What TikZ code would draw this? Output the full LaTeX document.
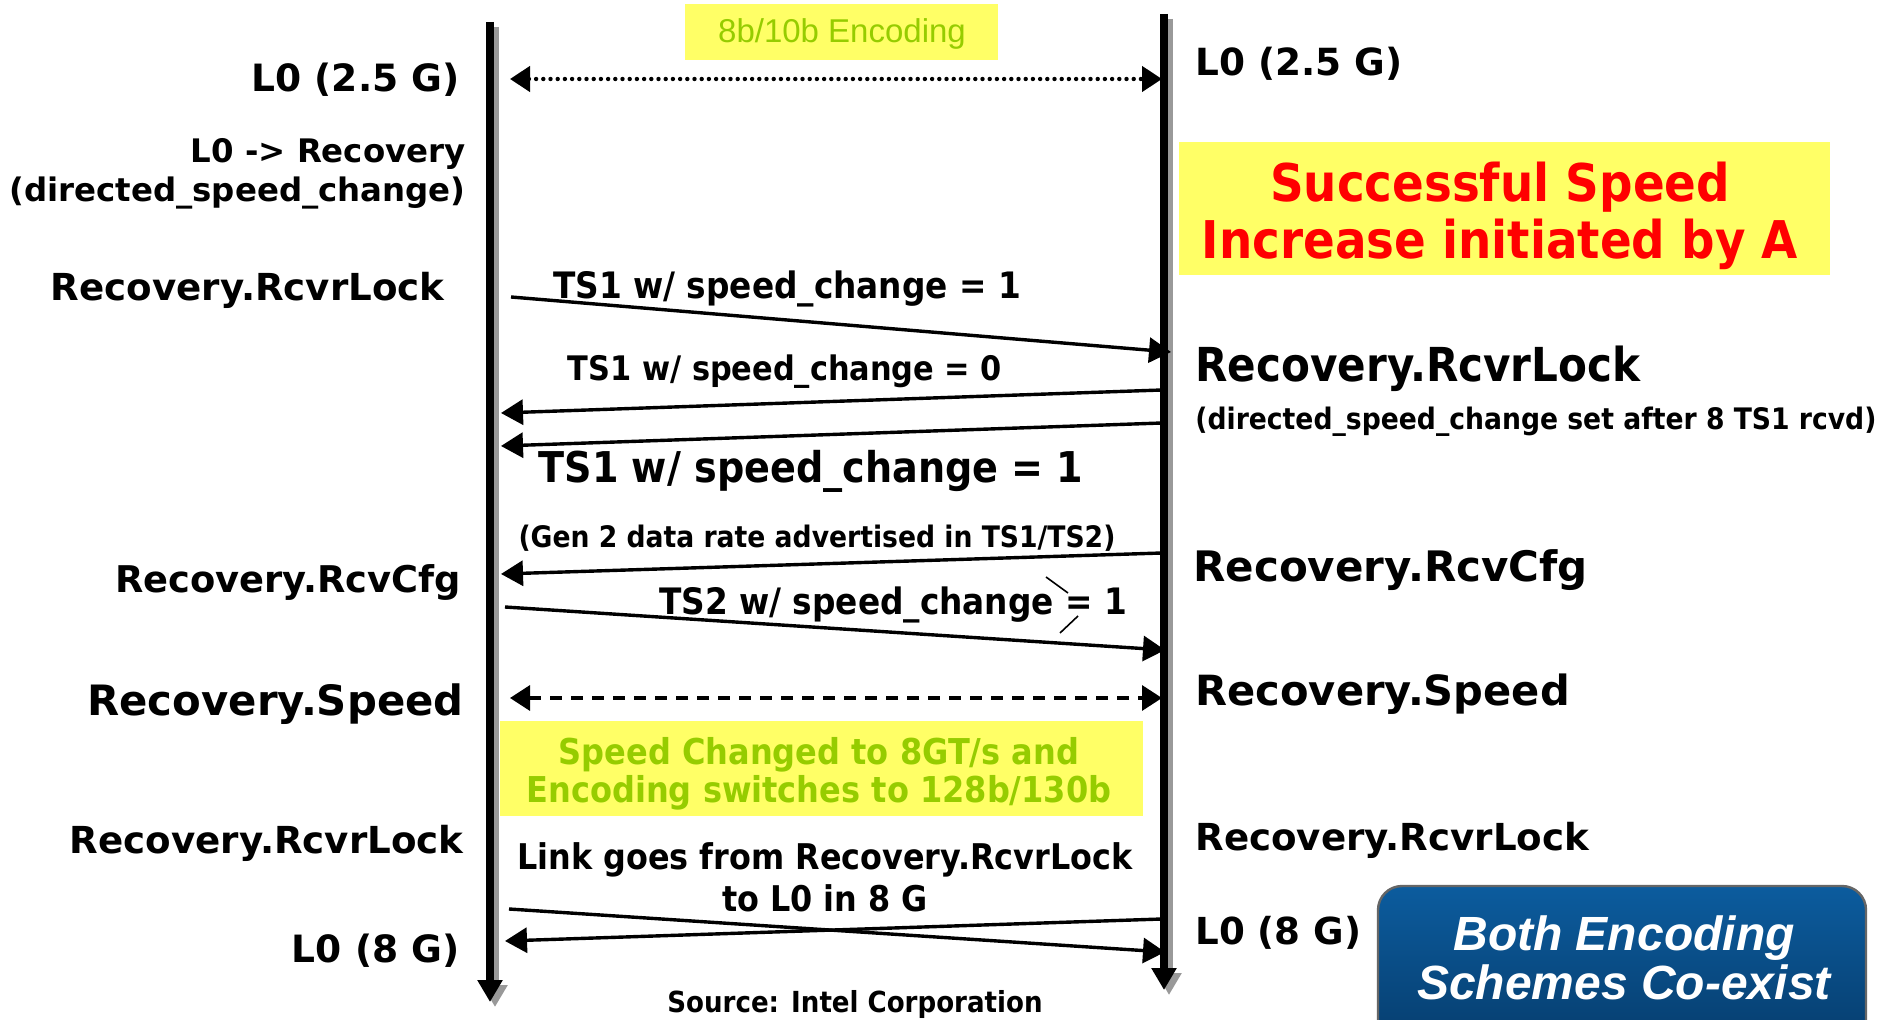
\documentclass[tikz,border=0pt]{standalone}
\usepackage{fontspec}
\setmainfont{DejaVu Sans}
\newfontfamily\condfont{DejaVu Sans Condensed}
\newfontfamily\arialfont{Liberation Sans}
\usetikzlibrary{arrows.meta}

\definecolor{noteyellow}{RGB}{255,255,102}
\definecolor{notegreen}{RGB}{150,204,0}
\definecolor{boxblueT}{RGB}{12,92,158}
\definecolor{boxblueB}{RGB}{6,60,108}
\newcommand\fsz[2]{\fontsize{#1pt}{#2pt}\selectfont}

\begin{document}
\begin{tikzpicture}[x=0.5pt, y=-0.5pt,
    lifeline/.style={line width=4pt, -{Triangle[length=11pt,width=12pt]}},
    lifeshadow/.style={lifeline, black!40},
    msg/.style={line width=1.7pt, -{Triangle[length=11pt,width=12.5pt]}},
    msgboth/.style={line width=1.7pt, {Triangle[length=10pt,width=12.5pt]}-{Triangle[length=10pt,width=12.5pt]}},
    lstate/.style={anchor=east, inner sep=0pt},
    rstate/.style={anchor=west, inner sep=0pt},
    msglabel/.style={inner sep=0pt},
    note/.style={fill=noteyellow}]
  \useasboundingbox (0,0) rectangle (1884,1020);
  \fill[white] (0,0) rectangle (1884,1020);

  % lifelines of A and B
  \coordinate (Atop) at (490,22);
  \coordinate (Abot) at (490,1002);
  \coordinate (Btop) at (1164,14);
  \coordinate (Bbot) at (1164,990);
  \draw[lifeshadow] ([shift={(5,5)}]Atop) -- ([shift={(5,5)}]Abot);
  \draw[lifeshadow] ([shift={(5,5)}]Btop) -- ([shift={(5,5)}]Bbot);
  \draw[lifeline] (Atop) -- (Abot);
  \draw[lifeline] (Btop) -- (Bbot);

  % states on side A
  \node[lstate, font={\bfseries\fsz{18.8}{22}}] (a25) at (460,80) {L0 (2.5 G)};
  \node[lstate, align=right, font={\bfseries\fsz{16.2}{19.5}}] (adir) at (466,174)
    {L0 -> Recovery\\(directed\_speed\_change)};
  \node[lstate, font={\bfseries\fsz{18.6}{22}}] (alock) at (445,290) {Recovery.RcvrLock};
  \node[lstate, font={\bfseries\fsz{18.4}{22}}] (acfg) at (461,582) {Recovery.RcvCfg};
  \node[lstate, font={\bfseries\fsz{20.9}{24}}] (aspeed) at (464,704) {Recovery.Speed};
  \node[lstate, font={\bfseries\fsz{18.6}{22}}] (alock2) at (464,843) {Recovery.RcvrLock};
  \node[lstate, font={\bfseries\fsz{18.8}{22}}] (a8) at (460,951) {L0 (8 G)};

  % states on side B
  \node[rstate, font={\bfseries\fsz{18.7}{22}}] (b25) at (1195,64) {L0 (2.5 G)};
  \node[rstate, font={\condfont\bfseries\fsz{23.4}{27}}] (block) at (1195,369) {Recovery.RcvrLock};
  \node[rstate, font={\condfont\bfseries\fsz{14.8}{18}}] (bdir) at (1195,422)
    {(directed\_speed\_change set after 8 TS1 rcvd)};
  \node[rstate, font={\bfseries\fsz{21}{24}}] (bcfg) at (1193,570) {Recovery.RcvCfg};
  \node[rstate, font={\bfseries\fsz{20.8}{24}}] (bspeed) at (1195,694) {Recovery.Speed};
  \node[rstate, font={\bfseries\fsz{18.6}{22}}] (block2) at (1195,840) {Recovery.RcvrLock};
  \node[rstate, font={\bfseries\fsz{18.6}{22}}] (b8) at (1195,933) {L0 (8 G)};

  % notes
  \path[note] (685,4) rectangle (998,60);
  \node[text=notegreen, font={\arialfont\fsz{16.5}{18}}] (enc1) at (842,34) {8b/10b Encoding};
  \path[note] (1179,142) rectangle (1830,275);
  \node[text=red, align=center, font={\condfont\bfseries\fsz{26}{28.5}}] (goal) at (1500,216)
    {Successful Speed\\Increase initiated by A};
  \path[note] (500,721) rectangle (1143,816);
  \node[text=notegreen, align=center, font={\condfont\bfseries\fsz{17.8}{19}}] (enc2) at (819,774)
    {Speed Changed to 8GT/s and\\Encoding switches to 128b/130b};
  \node[align=center, font={\condfont\bfseries\fsz{17.7}{21}}] (link) at (825,877)
    {Link goes from Recovery.RcvrLock\\to L0 in 8 G};
  \node[font={\condfont\bfseries\fsz{14.5}{17}}] (src) at (855,1004) {Source: Intel Corporation};
  \path[draw=black!60, line width=1.2pt, rounded corners=12pt, top color=boxblueT, bottom color=boxblueB]
    (1378,886) rectangle (1866,1050);
  \node[text=white, align=center, font={\arialfont\bfseries\itshape\fsz{24}{24.5}}] (coexist) at (1624,958)
    {Both Encoding\\Schemes Co-exist};

  % exchanged ordered sets
  \coordinate (a0) at (510,79);   \coordinate (b0) at (1162,79);
  \coordinate (a1) at (511,297);  \coordinate (b1) at (1171,352);
  \coordinate (b2) at (1162,390); \coordinate (a2) at (501,413);
  \coordinate (b3) at (1162,423); \coordinate (a3) at (501,446);
  \coordinate (b4) at (1162,553); \coordinate (a4) at (501,574);
  \coordinate (a5) at (505,607);  \coordinate (b5) at (1165,650);
  \coordinate (a6) at (510,698);  \coordinate (b6) at (1162,698);
  \coordinate (a7) at (509,909);  \coordinate (b7) at (1165,952);
  \coordinate (b8) at (1162,919); \coordinate (a8) at (505,941);

  \draw[msgboth, line width=2.2pt, line cap=round, dash pattern=on 0pt off 3.6pt] (a0) -- (b0);
  \draw[msg] (a1) -- (b1);
  \node[msglabel, font={\condfont\bfseries\fsz{18.2}{21}}] (m1) at (787,289) {TS1 w/ speed\_change = 1};
  \draw[msg] (b2) -- (a2);
  \node[msglabel, font={\condfont\bfseries\fsz{16.9}{20}}] (m2) at (785,372) {TS1 w/ speed\_change = 0};
  \draw[msg] (b3) -- (a3);
  \node[msglabel, font={\condfont\bfseries\fsz{21.2}{24}}] (m3) at (811,471) {TS1 w/ speed\_change = 1};
  \draw[msg] (b4) -- (a4);
  \node[msglabel, font={\condfont\bfseries\fsz{14.8}{18}}] (m4) at (817,538) {(Gen 2 data rate advertised in TS1/TS2)};
  \draw[msg] (a5) -- (b5);
  \node[msglabel, font={\condfont\bfseries\fsz{18.2}{21}}] (m5) at (893,605) {TS2 w/ speed\_change = 1};
  \draw[line width=0.8pt] (1046,577) -- (1068,593);
  \draw[line width=0.8pt] (1078,616) -- (1060,633);
  \draw[msgboth, dash pattern=on 6pt off 4.5pt] (a6) -- (b6);
  \draw[msg] (a7) -- (b7);
  \draw[msg] (b8) -- (a8);
\end{tikzpicture}
\end{document}
